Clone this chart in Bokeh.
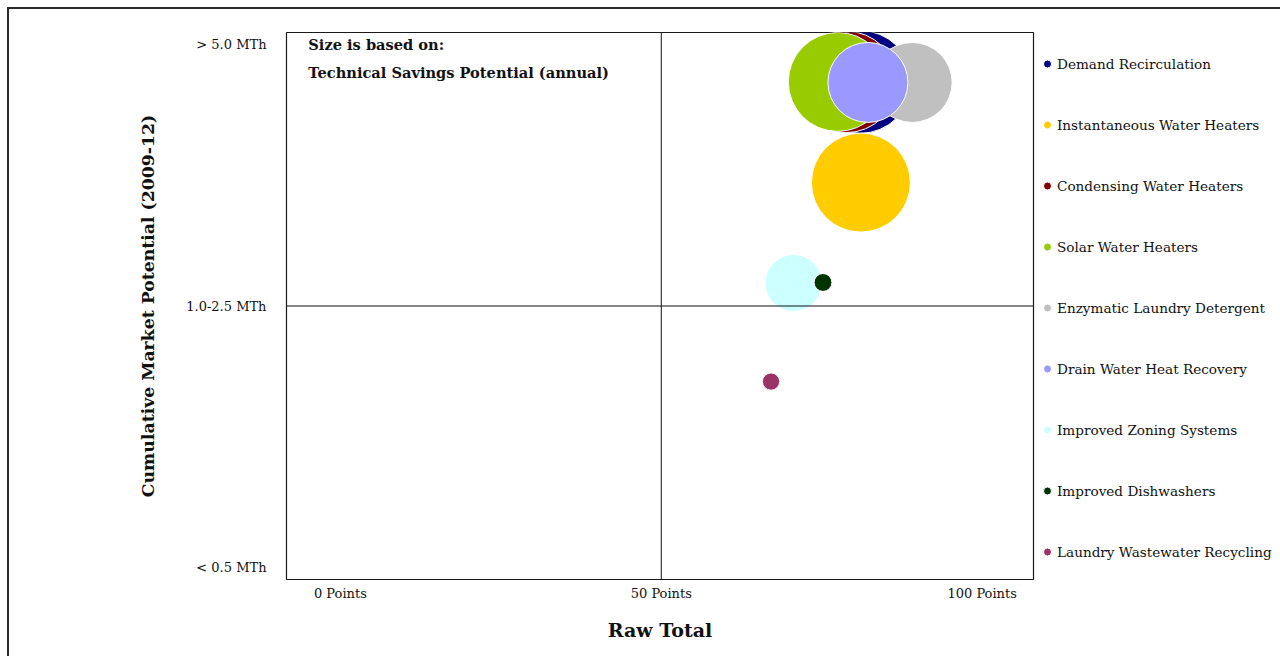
import math
from bokeh.plotting import figure
from bokeh.models import (ColumnDataSource, Span, Label, Legend, LegendItem,
                          FixedTicker, Range1d)
from bokeh.embed import file_html
from bokeh.resources import INLINE

# ---------------- data ----------------
technologies = [
    "Demand Recirculation",
    "Instantaneous Water Heaters",
    "Condensing Water Heaters",
    "Solar Water Heaters",
    "Enzymatic Laundry Detergent",
    "Drain Water Heat Recovery",
    "Improved Zoning Systems",
    "Improved Dishwashers",
    "Laundry Wastewater Recycling",
]
raw_total = [81.0, 81.1, 78.8, 77.5, 89.1, 82.2, 70.6, 75.2, 67.1]
market_potential = [1.857, 1.472, 1.857, 1.857, 1.855, 1.855, 1.088, 1.09, 0.711]
savings_potential = [2.65, 2.45, 2.58, 2.45, 1.60, 1.60, 0.81, 0.08, 0.075]
colors = ["#000080", "#FFCC00", "#800000", "#99CC00", "#C0C0C0",
          "#9999FF", "#CCFFFF", "#003300", "#993366"]

x_ticks = [0, 50, 100]
x_tick_labels = ["0 Points", "50 Points", "100 Points"]
y_ticks = [0, 1, 2]
y_tick_labels = ["< 0.5 MTh", "1.0-2.5 MTh", "> 5.0 MTh"]

BUBBLE_SCALE = 63.2  # px diameter per sqrt(unit)
FONT = "DejaVu Serif"

p = figure(
    frame_width=747, frame_height=547,
    min_border_left=277, min_border_right=245,
    min_border_top=23, min_border_bottom=77,
    x_range=Range1d(-8.4, 108.0), y_range=Range1d(-0.046, 2.046),
    output_backend="svg", toolbar_location=None,
    background_fill_color="white", border_fill_color="white",
)
p.styles = {
    "margin-left": "7px", "margin-top": "7px",
    "border-left": "2px solid #2a2a2a", "border-top": "2px solid #2a2a2a",
    "border-right": "2px solid #2a2a2a",
}

p.xgrid.visible = False
p.ygrid.visible = False
p.outline_line_color = "#1a1a1a"
p.outline_line_width = 1.2

# x axis
xa = p.xaxis[0]
xa.ticker = FixedTicker(ticks=x_ticks)
xa.major_label_overrides = dict(zip(x_ticks, x_tick_labels))
xa.axis_line_color = None
xa.major_tick_line_color = None
xa.minor_tick_line_color = None
xa.major_tick_out = 0
xa.major_tick_in = 0
xa.major_label_standoff = 6
xa.major_label_text_font = FONT
xa.major_label_text_font_size = "13px"
xa.major_label_text_color = "#111111"
xa.axis_label = "Raw Total"
xa.axis_label_text_font = FONT
xa.axis_label_text_font_style = "bold"
xa.axis_label_text_font_size = "19px"
xa.axis_label_standoff = 15
xa.axis_label_text_color = "#111111"

# y axis
ya = p.yaxis[0]
ya.ticker = FixedTicker(ticks=y_ticks)
ya.major_label_overrides = dict(zip(y_ticks, y_tick_labels))
ya.axis_line_color = None
ya.major_tick_line_color = None
ya.minor_tick_line_color = None
ya.major_tick_out = 0
ya.major_tick_in = 0
ya.major_label_standoff = 20
ya.major_label_text_font = FONT
ya.major_label_text_font_size = "13px"
ya.major_label_text_color = "#111111"
ya.axis_label = "Cumulative Market Potential (2009-12)"
ya.axis_label_text_font = FONT
ya.axis_label_text_font_style = "bold"
ya.axis_label_text_font_size = "17.3px"
ya.axis_label_standoff = 25
ya.axis_label_text_color = "#111111"

# quadrant lines
p.add_layout(Span(location=50, dimension="height", line_color="#111111", line_width=1))
p.add_layout(Span(location=1, dimension="width", line_color="#111111", line_width=1))

# bubbles
items = []
for name, xv, yv, sv, c in zip(technologies, raw_total, market_potential,
                               savings_potential, colors):
    src = ColumnDataSource(dict(x=[xv], y=[yv], size=[BUBBLE_SCALE * math.sqrt(sv)]))
    r = p.scatter("x", "y", size="size", source=src, marker="circle",
                  fill_color=c, line_color="white", line_width=1)
    items.append(LegendItem(label=name, renderers=[r]))

legend = Legend(
    items=items, location=(4, -3),
    glyph_width=20, glyph_height=61, spacing=0, padding=0, margin=0,
    label_standoff=0, label_height=20,
    border_line_color=None, background_fill_alpha=0,
    label_text_font=FONT, label_text_font_size="13.6px",
    label_text_color="#111111",
)
p.add_layout(legend, "right")

# size note
note_style = dict(text_font=FONT, text_font_style="bold", text_font_size="14.6px",
                  text_baseline="middle", text_align="left", text_color="#111111")
p.add_layout(Label(x=-5.0, y=2.0, text="Size is based on:", **note_style))
p.add_layout(Label(x=-5.0, y=2.0 - 28 / 261.5,
                   text="Technical Savings Potential (annual)", **note_style))

open("out.html", "w").write(file_html(p, INLINE))
